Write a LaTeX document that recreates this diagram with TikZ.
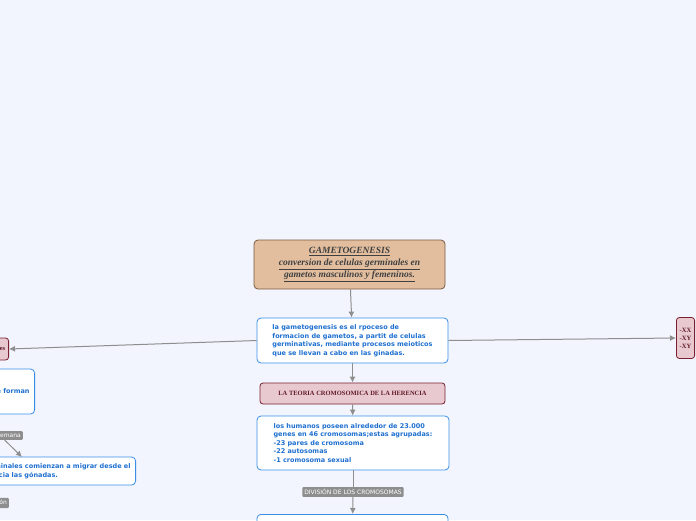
\documentclass[tikz,border=0pt]{standalone}
\usepackage{fontspec}
\setsansfont{DejaVu Sans}
\setmainfont{Liberation Serif}
\usetikzlibrary{arrows.meta}
\definecolor{bgc}{HTML}{F2F5FE}
\definecolor{blu}{HTML}{3A8EE6}
\definecolor{txtb}{HTML}{1E6FD0}
\definecolor{tan}{HTML}{E2BE9E}
\definecolor{tanb}{HTML}{7A5A40}
\definecolor{pnk}{HTML}{E8C9CF}
\definecolor{pnkb}{HTML}{7A2030}
\definecolor{gry}{HTML}{8E8E8E}
\begin{document}
\begin{tikzpicture}[x=1pt,y=-1pt,
  topic/.style={draw=blu,fill=white,rounded corners=4pt,line width=0.8pt,align=left,
    text=txtb,font=\sffamily\bfseries\fontsize{6.5}{8.5}\selectfont,inner sep=5pt},
  main/.style={draw=tanb,fill=tan,rounded corners=4pt,line width=0.8pt,align=center,
    text=black!75,font=\bfseries\itshape\fontsize{9.5}{12}\selectfont},
  sub/.style={draw=pnkb,fill=pnk,rounded corners=3pt,line width=0.8pt,align=left,
    text=pnkb!80!black,font=\bfseries\fontsize{6.5}{8}\selectfont},
  tag/.style={fill=gry,rounded corners=1pt,text=white,font=\sffamily\fontsize{6}{7}\selectfont,
    inner sep=2pt},
  link/.style={draw=gry,line width=1pt,-{Latex[length=6pt,width=6pt]}}]
\useasboundingbox (0,0) rectangle (696,520);
\fill[bgc] (0,0) rectangle (696,520);
\clip (0,0) rectangle (696,520);
% centre
\node[main,minimum width=191,minimum height=49] (gam) at (349.5,264.5)
  {\underline{GAMETOGENESIS}\\\underline{conversion de celulas germinales en}\\\underline{gametos masculinos y femeninos.}};
\node[topic,minimum width=191,minimum height=45] (def) at (352.5,340.5)
  {la gametogenesis es el rpoceso de\\formacion de gametos, a partit de celulas\\germinativas, mediante procesos meioticos\\que se llevan a cabo en las ginadas.};
\node[sub,minimum width=185,minimum height=21,align=center] (teo) at (352.5,393.5)
  {LA TEORIA CROMOSOMICA DE LA HERENCIA};
\node[topic,minimum width=192,minimum height=54] (hum) at (353,443)
  {los humanos poseen alrededor de 23.000\\genes en 46 cromosomas;estas agrupadas:\\-23 pares de cromosoma\\-22 autosomas\\-1 cromosoma sexual};
\node[tag] (div) at (353,492) {DIVISIÓN DE LOS CROMOSOMAS};
\node[topic,minimum width=191,minimum height=40,anchor=north] (low) at (352.5,514) {};
% right
\node[sub,anchor=west,minimum height=41] (sex) at (676,338) {-XX\\-XY\\-XY};
% left
\node[sub,anchor=east,minimum height=22] (lft) at (9,349) {células germinales};
\node[topic,anchor=east,minimum height=45] (frm) at (35,391.5) {de ellas se forman};
\node[tag,anchor=east] (sem) at (23,435.5) {4ª semana};
\node[topic,anchor=east,minimum height=28] (mig) at (136,471)
  {las células germinales comienzan a migrar desde el\\saco vitelino hacia las gónadas.};
\coordinate (migtop) at (22,457);
\node[tag,anchor=east] (mig2) at (9,503) {migración};
% links
\draw[link] (gam) -- (def);
\draw[link] (def) -- (teo);
\draw[link] (teo) -- (hum);
\draw[gry,line width=1pt] (hum) -- (div);
\draw[link] (div) -- (low);
\draw[link] (def.east) -- (sex.west);
\draw[link] (def.west) -- (lft.east);
\draw[link] (sem.south) -- (migtop);
\end{tikzpicture}
\end{document}
